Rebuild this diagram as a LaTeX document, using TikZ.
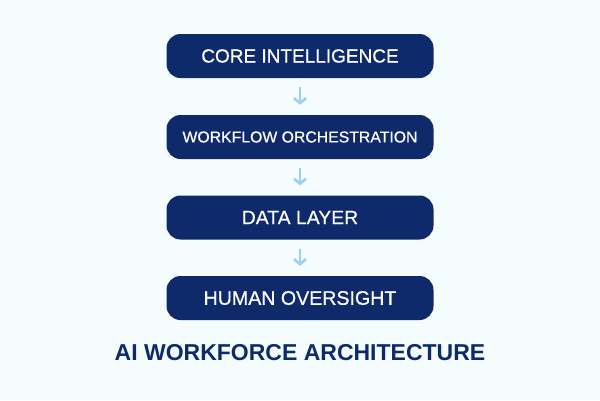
\documentclass[tikz,border=0pt]{standalone}
\usepackage{fontspec}
\setmainfont{Liberation Sans}
\newfontfamily\boxfont[FakeBold=0.6]{Liberation Sans}
\usetikzlibrary{arrows.meta}
\definecolor{navy}{HTML}{0E2A6B}
\definecolor{skyarrow}{HTML}{9ECEF3}
\definecolor{paper}{HTML}{F5FCFD}
\tikzset{
 layerbox/.style={fill=navy,rounded corners=14pt,minimum width=267pt,minimum height=44pt,
   inner sep=0pt,text=white},
 flowarrow/.style={draw=skyarrow,line width=2.6pt,-{Straight Barb[length=5pt,width=12pt]},
   shorten <=9pt,shorten >=10pt}
}
\begin{document}
\begin{tikzpicture}[x=1pt,y=-1pt]
 \fill[paper](0,0) rectangle (600,400);
 \useasboundingbox (0,0) rectangle (600,400);
 \node[layerbox,font=\boxfont\fontsize{19}{22}\selectfont](core) at (300,56){CORE INTELLIGENCE};
 \node[layerbox,font=\boxfont\fontsize{15.8}{19}\selectfont](flow) at (300,137){WORKFLOW ORCHESTRATION};
 \node[layerbox,font=\boxfont\fontsize{19.4}{22}\selectfont](data) at (300,217.5){DATA LAYER};
 \node[layerbox,font=\boxfont\fontsize{19.6}{22}\selectfont](human) at (300,298){HUMAN OVERSIGHT};
 \draw[flowarrow](core)--(flow);
 \draw[flowarrow](flow)--(data);
 \draw[flowarrow](data)--(human);
 \node[text=navy,font=\bfseries\fontsize{23}{26}\selectfont](title) at (300,353){AI WORKFORCE ARCHITECTURE};
\end{tikzpicture}
\end{document}
